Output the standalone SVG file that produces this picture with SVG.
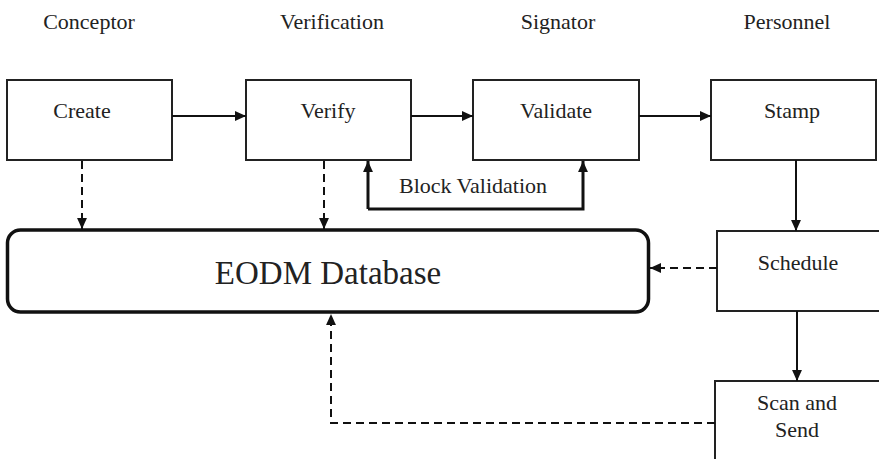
<svg xmlns="http://www.w3.org/2000/svg" width="879" height="459" viewBox="0 0 879 459">
  <style>
    text { font-family: "Times New Roman", "Liberation Serif", Tinos, "DejaVu Serif", serif; }
    .lbl { font-size: 22px; fill: #222; text-anchor: middle; }
    .big { font-size: 33px; }
    .box { fill: #fff; stroke: #222; stroke-width: 2; }
    .db { fill: #fff; stroke: #111; stroke-width: 3.5; }
    .solid { fill: none; stroke: #111; stroke-width: 2; }
    .thick { fill: none; stroke: #111; stroke-width: 3; }
    .dash { fill: none; stroke: #111; stroke-width: 2; stroke-dasharray: 8 5; }
  </style>
  <defs>
    <marker id="ah" viewBox="0 0 10 10" refX="10" refY="5" markerWidth="11" markerHeight="11" markerUnits="userSpaceOnUse" orient="auto">
      <path d="M0,0.5 L10,5 L0,9.5 Z" fill="#111"/>
    </marker>
  </defs>
  <rect width="879" height="459" fill="#fff"/>

  <!-- lane headings -->
  <g id="headings">
    <text class="lbl" x="89" y="29">Conceptor</text>
    <text class="lbl" x="332" y="29">Verification</text>
    <text class="lbl" x="558" y="29">Signator</text>
    <text class="lbl" x="787" y="29">Personnel</text>
  </g>

  <g id="create">
    <rect class="box" x="7" y="80" width="165" height="80"/>
    <text class="lbl" x="82" y="118">Create</text>
  </g>
  <g id="verify">
    <rect class="box" x="246" y="80" width="165" height="80"/>
    <text class="lbl" x="328" y="118">Verify</text>
  </g>
  <g id="validate">
    <rect class="box" x="473" y="80" width="166" height="80"/>
    <text class="lbl" x="556" y="118">Validate</text>
  </g>
  <g id="stamp">
    <rect class="box" x="711" y="80" width="165" height="80"/>
    <text class="lbl" x="792" y="118">Stamp</text>
  </g>
  <g id="database">
    <rect class="db" x="7.5" y="230" width="641" height="82" rx="13"/>
    <text class="lbl big" x="328" y="284">EODM Database</text>
  </g>
  <g id="schedule">
    <rect class="box" x="717" y="231" width="175" height="80"/>
    <text class="lbl" x="798" y="270">Schedule</text>
  </g>
  <g id="scan-send">
    <rect class="box" x="715" y="381" width="177" height="90"/>
    <text class="lbl" x="797" y="410">Scan and</text>
    <text class="lbl" x="797" y="437">Send</text>
  </g>

  <g id="connectors">
    <line class="solid" x1="172" y1="116" x2="246" y2="116" marker-end="url(#ah)"/>
    <line class="solid" x1="411" y1="116" x2="473" y2="116" marker-end="url(#ah)"/>
    <line class="solid" x1="639" y1="116" x2="711" y2="116" marker-end="url(#ah)"/>
    <line class="solid" x1="796" y1="160" x2="796" y2="231" marker-end="url(#ah)"/>
    <line class="solid" x1="797" y1="311" x2="797" y2="381" marker-end="url(#ah)"/>
    <line class="dash" x1="82" y1="161" x2="82" y2="229" marker-end="url(#ah)"/>
    <line class="dash" x1="324" y1="161" x2="324" y2="229" marker-end="url(#ah)"/>
    <line class="dash" x1="717" y1="268" x2="650" y2="268" marker-end="url(#ah)"/>
    <polyline class="dash" points="715,423 331,423 331,314" marker-end="url(#ah)"/>
    <polyline class="thick" points="368,209 583,209 583,161" marker-end="url(#ah)"/>
    <line class="thick" x1="368" y1="209" x2="368" y2="161" marker-end="url(#ah)"/>
    <text class="lbl" x="473" y="193">Block Validation</text>
  </g>
</svg>
